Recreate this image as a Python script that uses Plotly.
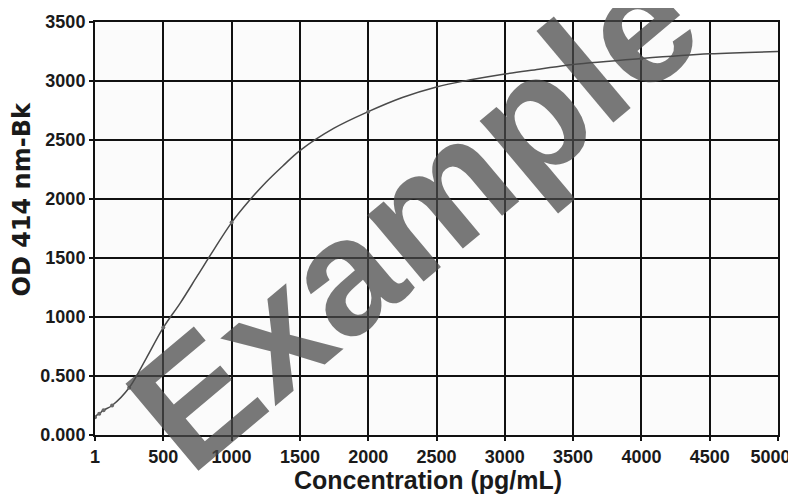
import plotly.graph_objects as go

# fitted standard curve
curve_x = [0, 15.6, 31.25, 62.5, 125, 250, 375, 500, 625, 750, 875, 1000, 1125, 1250,
           1375, 1500, 1750, 2000, 2250, 2500, 2750, 3000, 3250, 3500, 4000, 4500, 5000]
curve_y = [0.15, 0.17, 0.18, 0.21, 0.25, 0.40, 0.65, 0.91, 1.12, 1.35, 1.58, 1.80, 1.98, 2.14,
           2.28, 2.41, 2.60, 2.74, 2.86, 2.95, 3.01, 3.06, 3.10, 3.14, 3.19, 3.23, 3.25]

# standards (markers)
std_x = [0, 31.25, 62.5, 125, 250, 500, 1000, 2000, 4000]
std_y = [0.15, 0.18, 0.21, 0.25, 0.40, 0.91, 1.80, 2.74, 3.19]

x_tickvals = [0, 500, 1000, 1500, 2000, 2500, 3000, 3500, 4000, 4500, 5000]
x_ticktext = ["1", "500", "1000", "1500", "2000", "2500", "3000", "3500", "4000", "4500",
              "5000\u00a0\u00a0\u00a0"]
y_tickvals = [0, 0.5, 1.0, 1.5, 2.0, 2.5, 3.0, 3.5]
y_ticktext = ["0.000", "0.500", "1000", "1500", "2000", "2500", "3000", "3500"]

x_title = "Concentration (pg/mL)"
y_title = "OD 414 nm-Bk"
watermark = "Example"

FONT = "Liberation Sans, Arial, sans-serif"
INK = "#1a1a1a"

fig = go.Figure()
fig.add_trace(go.Scatter(x=curve_x, y=curve_y, mode="lines",
                         line=dict(color="#4a4a4a", width=1.5, shape="spline"),
                         hoverinfo="skip", showlegend=False))
fig.add_trace(go.Scatter(x=std_x, y=std_y, mode="markers",
                         marker=dict(color="#6a6a6a", size=4),
                         showlegend=False))

axis_common = dict(showgrid=True, gridcolor="#111111", gridwidth=2,
                   showline=True, linecolor="#111111", linewidth=2, mirror=True,
                   ticks="outside", tickcolor="#111111", tickwidth=2,
                   zeroline=False, automargin=False, ticklabeloverflow="allow",
                   tickfont=dict(family=FONT, size=18, color=INK, weight="bold"))

fig.update_layout(
    width=788, height=486,
    margin=dict(l=87, r=18, t=14, b=59),
    paper_bgcolor="#ffffff",
    plot_bgcolor="#fbfbfb",
    font=dict(family=FONT, color=INK),
    xaxis=dict(range=[0, 5000], tickvals=x_tickvals, ticktext=x_ticktext,
               ticklen=4, **axis_common),
    yaxis=dict(range=[0, 3.5], tickvals=y_tickvals, ticktext=y_ticktext,
               ticklen=4, **axis_common),
)

# axis titles
fig.add_annotation(text="<b>" + x_title + "</b>", xref="paper", yref="paper",
                   x=0.488, y=-0.108, yanchor="middle", showarrow=False,
                   font=dict(family=FONT, size=25, color=INK))
fig.add_annotation(text="<b>" + y_title + "</b>", xref="paper", yref="paper",
                   x=-0.107, y=0.57, xanchor="center", yanchor="middle",
                   textangle=-90, showarrow=False,
                   font=dict(family="DejaVu Sans, sans-serif", size=24, color=INK))

# watermark
fig.add_annotation(text="<b>" + watermark + "</b>", xref="paper", yref="paper",
                   x=0.466, y=0.530, showarrow=False, textangle=-40,
                   font=dict(family=FONT, size=165, color="rgba(74,74,74,0.74)"))

fig.write_html("out.html")
